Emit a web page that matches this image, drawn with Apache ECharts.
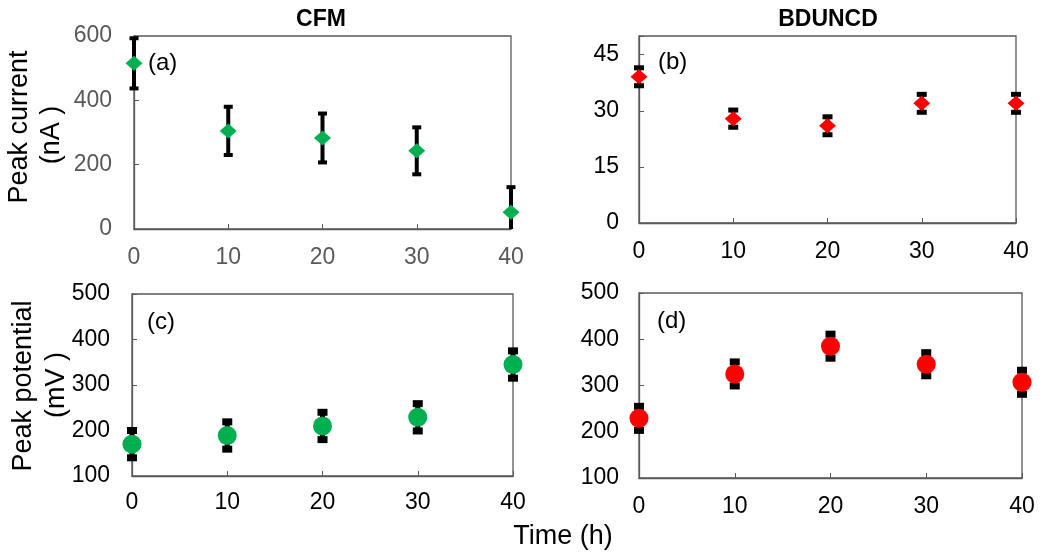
<!DOCTYPE html>
<html>
<head>
<meta charset="utf-8">
<script src="https://cdn.jsdelivr.net/npm/echarts@6/dist/echarts.min.js"></script>
<style>html,body{margin:0;padding:0;background:#fff}#c{width:1050px;height:560px}</style>
</head>
<body>
<div id="c"></div>
<script>
// ---- data ----
const timeH = [0, 10, 20, 30, 40];
const xTicks = [0, 10, 20, 30, 40];
const cfmCurrent = [515, 305, 283, 243, 52];
const cfmCurrentErr = [78, 75, 76, 73, 78];
const bdCurrent = [39.1, 27.9, 26.0, 32.0, 32.0];
const bdCurrentErr = [2.4, 2.3, 2.4, 2.4, 2.4];
const cfmPotential = [170, 189, 210, 229, 345];
const cfmPotentialErr = [30, 30, 30, 30, 30];
const bdPotential = [229, 325, 385, 346, 307];
const bdPotentialErr = [26, 26, 26, 25, 26];
const yTicksA = [0, 200, 400, 600];
const yTicksB = [0, 15, 30, 45];
const yTicksCD = [100, 200, 300, 400, 500];

const FONT = 'Liberation Sans, Arial, sans-serif';
const GREEN = '#00B050', RED = '#FF0000';
const AXC = '#595959';

function pts(vals) { return timeH.map((t, i) => [t, vals[i]]); }
function errs(vals, e) { return timeH.map((t, i) => [t, vals[i] - e[i], vals[i] + e[i]]); }

function errRender(capW, capH, lineW) {
  return function (params, api) {
    const cs = params.coordSys;
    const x = api.value(0);
    const lo = api.coord([x, api.value(1)]);
    const hi = api.coord([x, api.value(2)]);
    const top = cs.y, bot = cs.y + cs.height;
    let yHi = hi[1], yLo = lo[1];
    const clipHi = yHi < top, clipLo = yLo > bot;
    yHi = Math.max(yHi, top); yLo = Math.min(yLo, bot);
    const cx = hi[0];
    const children = [{
      type: 'line', shape: { x1: cx, y1: yHi, x2: cx, y2: yLo },
      style: { stroke: '#000', lineWidth: lineW }
    }];
    if (!clipHi) children.push({ type: 'rect', shape: { x: cx - capW / 2, y: yHi - capH / 2, width: capW, height: capH }, style: { fill: '#000' } });
    if (!clipLo) children.push({ type: 'rect', shape: { x: cx - capW / 2, y: yLo - capH / 2, width: capW, height: capH }, style: { fill: '#000' } });
    return { type: 'group', children };
  };
}

const grids = [
  { left: 134, top: 36, width: 377, height: 193 },
  { left: 639, top: 36, width: 377, height: 187 },
  { left: 132, top: 294, width: 381, height: 182 },
  { left: 639, top: 293, width: 383, height: 185 }
].map(g => Object.assign(g, { show: true, borderColor: AXC, borderWidth: 1.3, containLabel: false }));

function xAxis(i, color, margin) {
  return {
    type: 'value', gridIndex: i, min: xTicks[0], max: xTicks[xTicks.length - 1], interval: 10,
    axisLine: { show: true, lineStyle: { color: AXC, width: 1.3 } },
    axisTick: { show: true, inside: true, length: 5, lineStyle: { color: AXC } },
    splitLine: { show: false },
    axisLabel: { color: color, fontSize: 23, fontFamily: FONT, margin: margin,
      formatter: v => xTicks.indexOf(v) >= 0 ? String(v) : '' }
  };
}
function yAxis(i, ticks, color, margin, max) {
  const step = ticks[1] - ticks[0];
  return {
    type: 'value', gridIndex: i, min: ticks[0], max: max, interval: step,
    axisLine: { show: true, lineStyle: { color: AXC, width: 1.3 } },
    axisTick: { show: true, inside: true, length: 5, lineStyle: { color: AXC } },
    splitLine: { show: false },
    axisLabel: { color: color, fontSize: 23, fontFamily: FONT, margin: margin,
      formatter: v => ticks.indexOf(v) >= 0 ? String(v) : '' }
  };
}

const option = {
  animation: false,
  backgroundColor: '#fff',
  grid: grids,
  xAxis: [xAxis(0, AXC, 17), xAxis(1, '#000', 17), xAxis(2, '#000', 15), xAxis(3, '#000', 17)],
  yAxis: [yAxis(0, yTicksA, AXC, 22, 600), yAxis(1, yTicksB, '#000', 20, 50),
          yAxis(2, yTicksCD, '#000', 22, 500), yAxis(3, yTicksCD, '#000', 20, 500)],
  series: [
    { type: 'custom', xAxisIndex: 0, yAxisIndex: 0, data: errs(cfmCurrent, cfmCurrentErr), renderItem: errRender(9, 4, 4), z: 2 },
    { type: 'custom', xAxisIndex: 1, yAxisIndex: 1, data: errs(bdCurrent, bdCurrentErr), renderItem: errRender(10, 5, 4), z: 2 },
    { type: 'custom', xAxisIndex: 2, yAxisIndex: 2, data: errs(cfmPotential, cfmPotentialErr), renderItem: errRender(10, 7, 5), z: 2 },
    { type: 'custom', xAxisIndex: 3, yAxisIndex: 3, data: errs(bdPotential, bdPotentialErr), renderItem: errRender(10, 7, 5), z: 2 },
    { type: 'scatter', xAxisIndex: 0, yAxisIndex: 0, data: pts(cfmCurrent), symbol: 'diamond', symbolSize: [17, 15], itemStyle: { color: GREEN, opacity: 1 }, clip: false, z: 5 },
    { type: 'scatter', xAxisIndex: 1, yAxisIndex: 1, data: pts(bdCurrent), symbol: 'diamond', symbolSize: [17, 15], itemStyle: { color: RED, opacity: 1 }, clip: false, z: 5 },
    { type: 'scatter', xAxisIndex: 2, yAxisIndex: 2, data: pts(cfmPotential), symbol: 'circle', symbolSize: 19, itemStyle: { color: GREEN, opacity: 1 }, clip: false, z: 5 },
    { type: 'scatter', xAxisIndex: 3, yAxisIndex: 3, data: pts(bdPotential), symbol: 'circle', symbolSize: 19, itemStyle: { color: RED, opacity: 1 }, clip: false, z: 5 }
  ],
  graphic: [
    { type: 'text', x: 321, y: 20, style: { text: 'CFM', font: 'bold 23px ' + FONT, fill: '#000', align: 'center', verticalAlign: 'middle' } },
    { type: 'text', x: 828, y: 20, style: { text: 'BDUNCD', font: 'bold 23px ' + FONT, fill: '#000', align: 'center', verticalAlign: 'middle' } },
    { type: 'text', x: 148, y: 63, style: { text: '(a)', font: '24px ' + FONT, fill: '#000', align: 'left', verticalAlign: 'middle' } },
    { type: 'text', x: 658, y: 62, style: { text: '(b)', font: '24px ' + FONT, fill: '#000', align: 'left', verticalAlign: 'middle' } },
    { type: 'text', x: 147, y: 322, style: { text: '(c)', font: '24px ' + FONT, fill: '#000', align: 'left', verticalAlign: 'middle' } },
    { type: 'text', x: 657, y: 321, style: { text: '(d)', font: '24px ' + FONT, fill: '#000', align: 'left', verticalAlign: 'middle' } },
    { type: 'text', x: 20, y: 127, rotation: Math.PI / 2, style: { text: 'Peak current', font: '27px ' + FONT, fill: '#000', align: 'center', verticalAlign: 'middle' } },
    { type: 'text', x: 52, y: 135, rotation: Math.PI / 2, style: { text: '(nA )', font: '27px ' + FONT, fill: '#000', align: 'center', verticalAlign: 'middle' } },
    { type: 'text', x: 24, y: 386, rotation: Math.PI / 2, style: { text: 'Peak potential', font: '27px ' + FONT, fill: '#000', align: 'center', verticalAlign: 'middle' } },
    { type: 'text', x: 57, y: 385, rotation: Math.PI / 2, style: { text: '(mV )', font: '27px ' + FONT, fill: '#000', align: 'center', verticalAlign: 'middle' } },
    { type: 'text', x: 563, y: 537, style: { text: 'Time (h)', font: '27px ' + FONT, fill: '#000', align: 'center', verticalAlign: 'middle' } }
  ]
};
const chart = echarts.init(document.getElementById('c'), null, { renderer: 'canvas' });
chart.setOption(option);
</script>
</body>
</html>
